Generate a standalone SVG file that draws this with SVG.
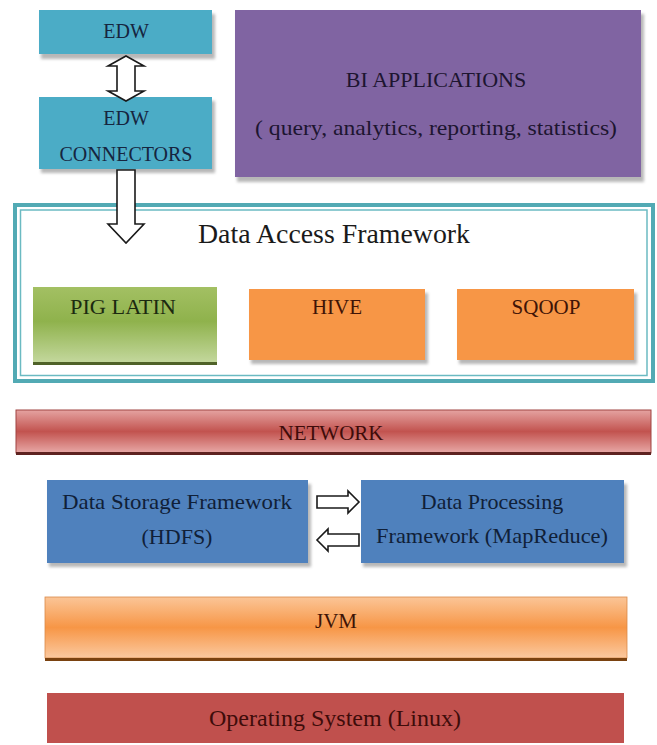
<svg xmlns="http://www.w3.org/2000/svg" width="657" height="745" viewBox="0 0 657 745">
  <defs>
    <linearGradient id="gPig" x1="0" y1="0" x2="0" y2="1">
      <stop offset="0" stop-color="#a3c063"/>
      <stop offset="0.45" stop-color="#8fb24c"/>
      <stop offset="1" stop-color="#c4d89e"/>
    </linearGradient>
    <linearGradient id="gNet" x1="0" y1="0" x2="0" y2="1">
      <stop offset="0" stop-color="#e5a3a1"/>
      <stop offset="0.5" stop-color="#c2534f"/>
      <stop offset="1" stop-color="#e8a9a7"/>
    </linearGradient>
    <linearGradient id="gJvm" x1="0" y1="0" x2="0" y2="1">
      <stop offset="0" stop-color="#fbc597"/>
      <stop offset="0.5" stop-color="#f79646"/>
      <stop offset="1" stop-color="#fbc9a0"/>
    </linearGradient>
    <filter id="soft" x="-5%" y="-10%" width="110%" height="130%">
      <feGaussianBlur stdDeviation="1.5"/>
    </filter>
  </defs>

  <rect width="657" height="745" fill="#ffffff"/>

  <g font-family="Liberation Serif" text-anchor="middle">

  <!-- EDW -->
  <g id="edw">
    <rect fill="#9a9a9a" opacity="0.7" filter="url(#soft)" x="41" y="14" width="174" height="45"/>
    <rect fill="#4bacc6" x="39" y="10" width="173" height="44"/>
    <text fill="#16253f" font-size="20" x="126" y="38">EDW</text>
  </g>

  <!-- EDW connectors -->
  <g id="edw-connectors">
    <rect fill="#9a9a9a" opacity="0.7" filter="url(#soft)" x="41" y="101" width="174" height="72"/>
    <rect fill="#4bacc6" x="39" y="97" width="173" height="72"/>
    <text fill="#16253f" font-size="20" x="126" y="125">EDW</text>
    <text fill="#16253f" font-size="20" x="126" y="161">CONNECTORS</text>
  </g>

  <!-- BI applications -->
  <g id="bi-applications">
    <rect fill="#9a9a9a" opacity="0.7" filter="url(#soft)" x="237" y="14" width="407" height="168"/>
    <rect fill="#8064a2" x="235" y="10" width="406" height="167"/>
    <text fill="#1d1530" font-size="22" x="436" y="87">BI APPLICATIONS</text>
    <text fill="#1d1530" font-size="22" x="436" y="135" textLength="362" lengthAdjust="spacingAndGlyphs">( query, analytics, reporting, statistics)</text>
  </g>

  <!-- Data access framework container -->
  <g id="data-access-framework">
    <rect x="15" y="205" width="638" height="176" fill="none" stroke="#52aab4" stroke-width="4"/>
    <rect x="20.5" y="210" width="626.5" height="165.5" fill="none" stroke="#6bbac2" stroke-width="1.5"/>
    <text fill="#1a1a1a" font-size="28" x="334" y="243" textLength="272" lengthAdjust="spacingAndGlyphs">Data Access  Framework</text>
  </g>

  <g id="pig-latin">
    <rect x="33" y="287" width="184" height="76" fill="url(#gPig)"/>
    <rect x="33" y="362" width="184" height="3" fill="#4f6228"/>
    <text fill="#1c2a10" font-size="20" x="123" y="314" textLength="106" lengthAdjust="spacingAndGlyphs">PIG LATIN</text>
  </g>

  <g id="hive">
    <rect fill="#9a9a9a" opacity="0.7" filter="url(#soft)" x="251" y="293" width="177" height="71"/>
    <rect fill="#f79646" x="249" y="289" width="176" height="71"/>
    <text fill="#3f1406" font-size="21" x="337" y="314">HIVE</text>
  </g>

  <g id="sqoop">
    <rect fill="#9a9a9a" opacity="0.7" filter="url(#soft)" x="459" y="293" width="178" height="71"/>
    <rect fill="#f79646" x="457" y="289" width="177" height="71"/>
    <text fill="#3f1406" font-size="21" x="546" y="314">SQOOP</text>
  </g>

  <!-- Network layer -->
  <g id="network">
    <rect x="16" y="410" width="635" height="43" fill="url(#gNet)" stroke="#a04442" stroke-width="1"/>
    <rect x="16" y="452" width="635" height="3" fill="#5e2220"/>
    <text fill="#3e0c0a" font-size="21" x="331" y="440">NETWORK</text>
  </g>

  <!-- Storage and processing -->
  <g id="data-storage">
    <rect fill="#9a9a9a" opacity="0.7" filter="url(#soft)" x="49" y="484" width="262" height="83"/>
    <rect fill="#4f81bd" x="47" y="480" width="261" height="83"/>
    <text fill="#102038" font-size="22" x="177" y="509" textLength="230" lengthAdjust="spacingAndGlyphs">Data Storage Framework</text>
    <text fill="#102038" font-size="22" x="177" y="544">(HDFS)</text>
  </g>

  <g id="data-processing">
    <rect fill="#9a9a9a" opacity="0.7" filter="url(#soft)" x="363" y="484" width="264" height="83"/>
    <rect fill="#4f81bd" x="361" y="480" width="263" height="83"/>
    <text fill="#102038" font-size="22" x="492" y="509">Data Processing</text>
    <text fill="#102038" font-size="22" x="492" y="543" textLength="232" lengthAdjust="spacingAndGlyphs">Framework (MapReduce)</text>
  </g>

  <!-- JVM layer -->
  <g id="jvm">
    <rect x="45" y="597" width="582" height="61" fill="url(#gJvm)" stroke="#d98a4a" stroke-width="0.8"/>
    <rect x="45" y="658" width="582" height="3" fill="#7a4210"/>
    <text fill="#3f1406" font-size="21" x="336" y="628">JVM</text>
  </g>

  <!-- Operating system layer -->
  <g id="operating-system">
    <rect fill="#c0504d" x="47" y="693" width="577" height="50"/>
    <text fill="#3e0c0a" font-size="24" x="335" y="726">Operating System (Linux)</text>
  </g>

  </g>

  <!-- Block arrows -->
  <g id="connectors" fill="#ffffff" stroke="#1a1a1a" stroke-width="1.6">
    <!-- EDW <-> EDW connectors -->
    <polygon points="126,56 144,66 135,66 135,91 144,91 126,101 108,91 117,91 117,66 108,66"/>
    <!-- EDW connectors -> data access framework -->
    <polygon points="117,170 135,170 135,224 144,224 126,243 108,224 117,224"/>
    <!-- storage -> processing -->
    <polygon points="317,496 348,496 348,491 359,502 348,513 348,508 317,508"/>
    <!-- processing -> storage -->
    <polygon points="359,534 328,534 328,529 317,540 328,551 328,546 359,546"/>
  </g>
</svg>
